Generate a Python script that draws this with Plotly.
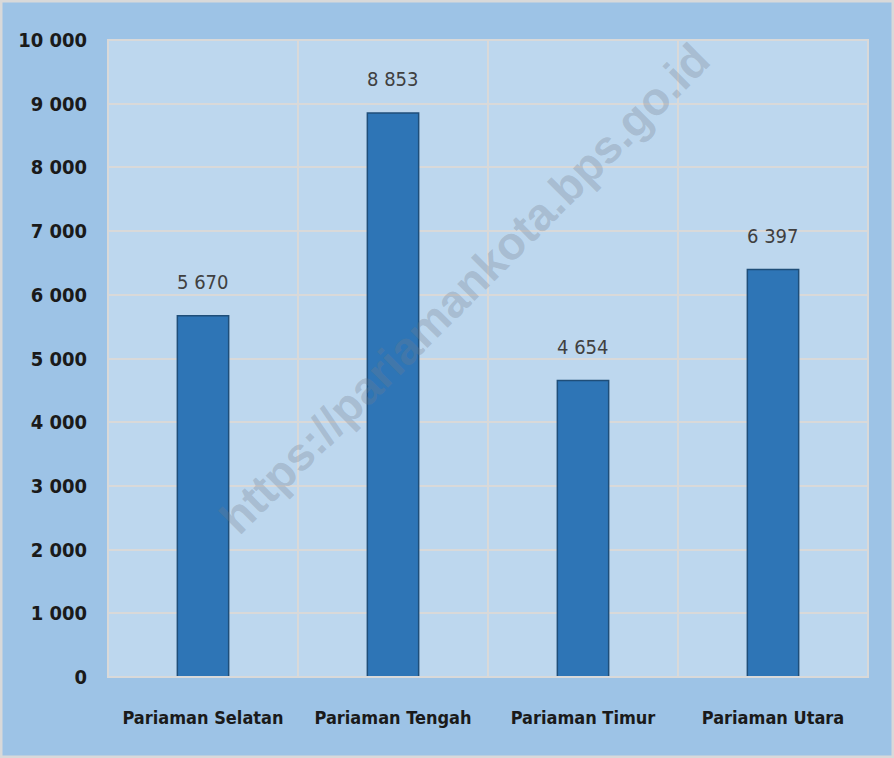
import plotly.graph_objects as go

categories = ["Pariaman Selatan", "Pariaman Tengah", "Pariaman Timur", "Pariaman Utara"]
values = [5670, 8853, 4654, 6397]
watermark = "https://pariamankota.bps.go.id"

FONT = "DejaVu Sans Condensed, Liberation Sans Narrow, Arial Narrow, sans-serif"

fig = go.Figure()
fig.add_trace(go.Bar(
    x=categories, y=values, width=0.27,
    marker=dict(color="#2e75b6", line=dict(color="#1f4e79", width=1.5)),
    hoverinfo="skip",
))

for c, v in zip(categories, values):
    fig.add_annotation(x=c, y=v, text=f"{v:,}".replace(",", " "), showarrow=False,
                       yanchor="bottom", yshift=20,
                       font=dict(family=FONT, size=20, color="#404040"))

shapes = []
for i in range(len(categories) + 1):
    shapes.append(dict(type="line", xref="x", yref="paper", x0=i - 0.5, x1=i - 0.5,
                       y0=0, y1=1, line=dict(color="#d9d9d9", width=2), layer="below"))
shapes.append(dict(type="rect", xref="paper", yref="paper", x0=0, x1=1, y0=0, y1=1,
                   line=dict(color="#d9d9d9", width=2), layer="below"))
shapes.append(dict(type="line", xref="paper", yref="paper", x0=0, x1=1, y0=0, y1=0,
                   line=dict(color="#d9d9d9", width=2), layer="above"))

fig.add_annotation(xref="paper", yref="paper", x=0.47, y=0.61, text=watermark,
                   showarrow=False, textangle=-45,
                   font=dict(family="Liberation Sans, Arial, sans-serif", size=46,
                             color="rgba(115,125,140,0.3)", weight="bold"))

fig.update_layout(
    width=894, height=758,
    margin=dict(l=108, r=26, t=40, b=81),
    paper_bgcolor="#9dc3e6", plot_bgcolor="#bdd7ee",
    separators=". ",
    showlegend=False,
    shapes=shapes,
    xaxis=dict(type="category", range=[-0.5, len(categories) - 0.5], showgrid=False,
               ticks="", ticklabelstandoff=28,
               tickfont=dict(family=FONT, size=18, color="#1a1a1a", weight="bold"),
               showline=False, zeroline=False),
    yaxis=dict(range=[0, 10000], dtick=1000, tickformat=",d", gridcolor="#d9d9d9",
               gridwidth=2, zeroline=False, showline=False, ticks="", ticklabelstandoff=20,
               tickfont=dict(family=FONT, size=20, color="#1a1a1a", weight="bold")),
)

fig.add_shape(type="rect", xref="paper", yref="paper", x0=-108/760, x1=1 + 26/760,
              y0=-81/637, y1=1 + 40/637, line=dict(color="#d9d9d9", width=5),
              fillcolor="rgba(0,0,0,0)")

fig.write_html("out.html", post_script="document.body.style.margin='0';",
               config={"displayModeBar": False})
